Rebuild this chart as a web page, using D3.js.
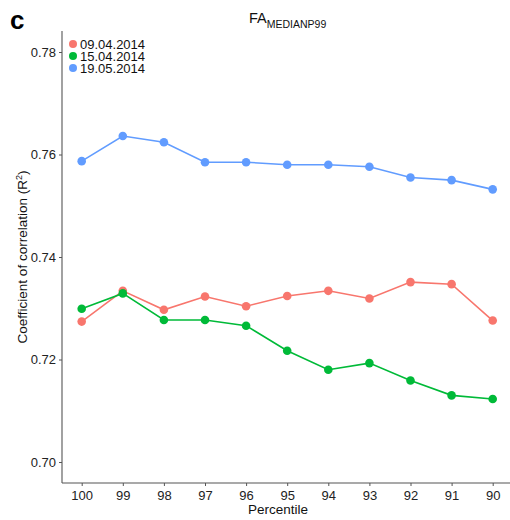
<!DOCTYPE html>
<html><head><meta charset="utf-8">
<script src="https://cdn.jsdelivr.net/npm/d3@7"></script>
<style>body{margin:0;background:#fff}svg{display:block}text{font-family:"Liberation Sans",Arial,sans-serif}</style>
</head><body><svg id="c" width="510" height="520"></svg>
<script>
const percentiles = ["100","99","98","97","96","95","94","93","92","91","90"];
const seriesNames = ["09.04.2014","15.04.2014","19.05.2014"];
const colors = ["#F8766D","#00BA38","#619CFF"];
const s0904 = [0.7274,0.7334,0.7297,0.7323,0.7304,0.7324,0.7334,0.7319,0.7351,0.7347,0.7276];
const s1504 = [0.7299,0.7329,0.7277,0.7277,0.7266,0.7217,0.7180,0.7193,0.7159,0.7130,0.7123];
const s1905 = [0.7587,0.7636,0.7624,0.7585,0.7585,0.7580,0.7580,0.7576,0.7555,0.7550,0.7532];
const yTicks = [0.70,0.72,0.74,0.76,0.78];
const series = [s0904,s1504,s1905];

const svg = d3.select("#c");
const padL=62, padT=31, padB=483, step=41.1;
const x = d3.scalePoint().domain(percentiles).range([padL+19.7, padL+19.7+step*10]);
const y = d3.scaleLinear().domain([0.70,0.78]).range([462,52]);

// axes
const gy = svg.append("g").attr("transform",`translate(${padL},0)`)
  .call(d3.axisLeft(y).tickValues(yTicks).tickFormat(d3.format(".2f")).tickSize(3).tickPadding(3));
gy.select(".domain").attr("d",`M0,${padT}V${padB}`);
const gx = svg.append("g").attr("transform",`translate(0,${padB})`)
  .call(d3.axisBottom(x).tickSize(3).tickPadding(5));
gx.select(".domain").attr("d",`M${padL},0H510`);
svg.selectAll(".domain").attr("stroke","#555").attr("stroke-width",1.1);
svg.selectAll(".tick line").attr("stroke","#555");
svg.selectAll(".tick text").attr("fill","#222").style("font-size","13px").style("font-family","'Liberation Sans',Arial,sans-serif");

// lines
const line = d3.line().x((d,i)=>x(percentiles[i])).y(d=>y(d));
series.forEach((s,k)=>{
  svg.append("path").datum(s).attr("d",line).attr("fill","none").attr("stroke",colors[k]).attr("stroke-width",1.6);
});
series.forEach((s,k)=>{
  svg.append("g").selectAll("circle").data(s).join("circle")
    .attr("cx",(d,i)=>x(percentiles[i])).attr("cy",d=>y(d)).attr("r",4.3).attr("fill",colors[k]);
});

// legend
seriesNames.forEach((n,k)=>{
  const ly = 44 + k*12;
  svg.append("circle").attr("cx",73).attr("cy",ly).attr("r",4).attr("fill",colors[k]);
  svg.append("text").attr("x",80).attr("y",ly+4.5).text(n).style("font-size","13px").attr("fill","#111");
});

// title
const t = svg.append("text").attr("x",249).attr("y",23).attr("fill","#111");
t.append("tspan").text("FA").style("font-size","14.5px");
t.append("tspan").text("MEDIANP99").style("font-size","10.5px").attr("dy",5);

// panel label
svg.append("text").attr("x",10).attr("y",29).text("c").style("font-size","26px").style("font-weight","bold");

// axis titles
svg.append("text").attr("x",(padL+510)/2-8).attr("y",514).attr("text-anchor","middle").text("Percentile").style("font-size","13.5px").attr("fill","#111");
const yt = svg.append("text").attr("transform",`translate(27,${(padT+padB)/2}) rotate(-90)`).attr("text-anchor","middle").style("font-size","13.5px").attr("fill","#111");
yt.append("tspan").text("Coefficient of correlation (R");
yt.append("tspan").text("2").style("font-size","9px").attr("dy",-5);
yt.append("tspan").text(")").attr("dy",5);
</script></body></html>
